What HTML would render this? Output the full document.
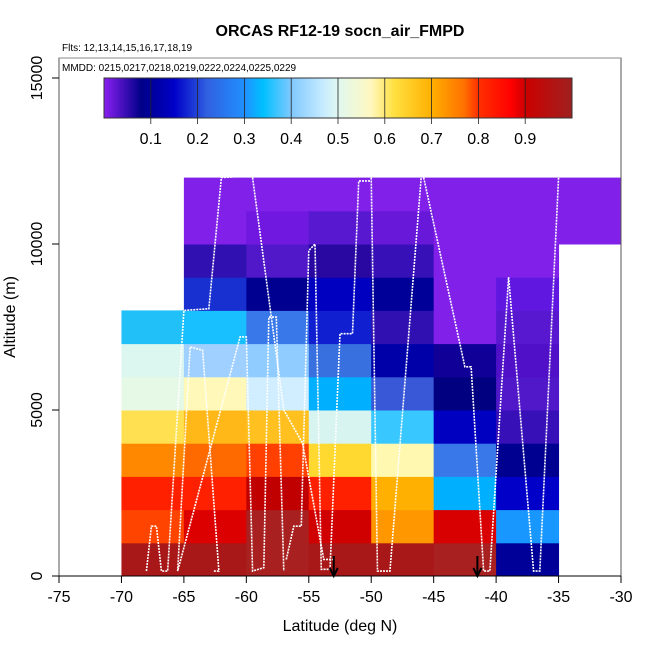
<!DOCTYPE html>
<html><head><meta charset="utf-8"><style>
body{margin:0;background:#fff;}
svg{display:block;font-family:"Liberation Sans",sans-serif;}
</style></head><body>
<svg id="chart" width="650" height="650" viewBox="0 0 650 650">
<defs>
<linearGradient id="cb" x1="0" x2="1" y1="0" y2="0">
<stop offset="0" stop-color="#8a1ff0"/><stop offset="0.08" stop-color="#000088"/>
<stop offset="0.15" stop-color="#0000c8"/><stop offset="0.22" stop-color="#3060e0"/>
<stop offset="0.3" stop-color="#2090ff"/><stop offset="0.34" stop-color="#00c0ff"/>
<stop offset="0.4" stop-color="#80c8ff"/><stop offset="0.47" stop-color="#c8ecff"/>
<stop offset="0.5" stop-color="#e0f8f0"/><stop offset="0.57" stop-color="#fff8c0"/>
<stop offset="0.62" stop-color="#ffe040"/><stop offset="0.7" stop-color="#ffb000"/>
<stop offset="0.77" stop-color="#ff7000"/><stop offset="0.8" stop-color="#ff3000"/>
<stop offset="0.87" stop-color="#ff0000"/><stop offset="0.9" stop-color="#cc0000"/>
<stop offset="1" stop-color="#a02020"/>
</linearGradient>
</defs>
<text x="340" y="36" text-anchor="middle" font-size="16" font-weight="bold">ORCAS RF12-19 socn_air_FMPD</text>
<text x="62" y="51" font-size="10">Flts: 12,13,14,15,16,17,18,19</text>
<g id="cells"></g>
<g id="tracks"></g>
<g id="arrows"></g>
<rect x="59" y="58" width="562" height="518" fill="none" stroke="#555" stroke-width="1"/>
<rect x="60" y="59" width="560" height="95" fill="#fff"/>
<line x1="59" y1="58" x2="621" y2="58" stroke="#888"/>
<text x="62" y="71" font-size="10">MMDD: 0215,0217,0218,0219,0222,0224,0225,0229</text>
<rect x="104" y="78" width="468" height="40" fill="url(#cb)" stroke="#333"/>
<g id="cbticks"></g>
<line x1="59" y1="576" x2="621" y2="576" stroke="#000"/>
<g id="xticks"></g>
<g id="yticks"></g>
<text x="340" y="631" text-anchor="middle" font-size="16">Latitude (deg N)</text>
<text x="0" y="0" transform="translate(15,317) rotate(-90)" text-anchor="middle" font-size="16">Altitude (m)</text>
</svg>
<script>
const latBins=[-70,-65,-60,-55,-50,-45,-40,-35];
const altBins=[0,1000,2000,3000,4000,5000,6000,7000,8000,9000,10000,11000];
const cellColors=[
["#a81818","#ff4400","#ff2000","#ff8800","#ffe050","#e6f8e6","#dcf6f0","#22c0f8",null,null,null,null],
["#a81818","#dd0000","#ff2000","#ff6a00","#ffb818","#fff8b8","#a0d0ff","#18c0ff","#1830d0","#3010b0","#8020e8","#8020e8"],
["#a82020","#a82020","#c00000","#ff4000","#ffc020","#d0eeff","#90ccff","#3878e8","#000090","#5018c8","#7018e0","#8020e8"],
["#a81818","#d00000","#ff2000","#ffd830","#d8f4f0","#00b0ff","#3870e0","#1020d0","#0000c0","#2808a0","#5818d0","#8020e8"],
["#a81818","#ff9800","#ffb000","#fff8b0","#38c8ff","#3858d8","#0000a8","#3010b0","#000098","#3810b8","#6818d8","#8020e8"],
["#a82020","#d80000","#00b0ff","#3878e8","#0000c0","#000080","#100098","#8020e8","#8020e8","#8020e8","#8020e8","#8020e8"],
["#000098","#1898ff","#0000c8","#000090","#3810b8","#5018c8","#5010c8","#5818d0","#6018e0","#8020e8","#8020e8","#8020e8"],
[null,null,null,null,null,null,null,null,null,null,"#8020e8","#8020e8"]
];
const xTicks=[-75,-70,-65,-60,-55,-50,-45,-40,-35,-30];
const yTicks=[0,5000,10000,15000];
const cbTicks=[0.1,0.2,0.3,0.4,0.5,0.6,0.7,0.8,0.9];
const arrowLats=[-53,-41.5];
const track1=[[-68,150],[-67.6,1500],[-67.2,1500],[-66.8,150],[-66.3,150],[-65,8000],[-63,8050],[-62,12000],[-60,12050]];
const track2=[[-62.6,150],[-62.2,150],[-63.5,6800],[-64.5,6900],[-65.5,150],[-60.5,7200],[-60,7200],[-59.5,150],[-58.6,250],[-58.2,7800],[-57.6,7800],[-57,150]];
const track3=[[-56.8,500],[-56.2,1500],[-55.6,1500],[-55,9800],[-54.5,10000],[-54,200],[-53.3,200],[-52.5,7300],[-51.5,7300],[-51,11900],[-50,11900]];
const track4=[[-50,12000],[-49.5,150],[-48.5,150],[-46,12000]];
const track5=[[-45.8,12000],[-42.5,6300],[-42,6300],[-41,150],[-40.5,150],[-39,9000],[-37,150],[-36.5,150],[-35,12000]];
const track6=[[-59.5,12000],[-57,5000],[-55.5,4000],[-53.8,500],[-53,500]];
const tracks=[track1,track2,track3,track4,track5,track6];

const NS='http://www.w3.org/2000/svg';
const X=v=>59+(v+75)*(562/45);
const Y=v=>576-v*(498/15000);
function mk(tag,attrs,parent){const e=document.createElementNS(NS,tag);for(const k in attrs)e.setAttribute(k,attrs[k]);parent.appendChild(e);return e;}
const cells=document.getElementById('cells');
latBins.forEach((lat,i)=>{altBins.forEach((alt,j)=>{const c=cellColors[i][j];if(!c)return;
const r=mk('rect',{x:X(lat),y:Y(alt+1000),width:X(lat+5)-X(lat)+0.5,height:Y(alt)-Y(alt+1000)+0.5,fill:c},cells);

});});
const tg=document.getElementById('tracks');
tracks.forEach(t=>{const p=mk('polyline',{points:t.map(q=>X(q[0])+','+Y(q[1])).join(' '),fill:'none',stroke:'#fff','stroke-width':1.6,'stroke-dasharray':'2 1'},tg);

});
const ag=document.getElementById('arrows');
arrowLats.forEach(l=>{const x=X(l);const g=mk('g',{},ag);


mk('line',{x1:x,y1:556,x2:x,y2:576,stroke:'#000','stroke-width':2},g);
mk('polyline',{points:(x-4)+',568 '+x+',576 '+(x+4)+',568',fill:'none',stroke:'#000','stroke-width':2},g);});
const xg=document.getElementById('xticks');
xTicks.forEach(v=>{mk('line',{x1:X(v),y1:576,x2:X(v),y2:583,stroke:'#000'},xg);
const t=mk('text',{x:X(v),y:602,'text-anchor':'middle','font-size':16},xg);t.textContent=v;

});
const yg=document.getElementById('yticks');
yTicks.forEach(v=>{mk('line',{x1:52,y1:Y(v),x2:59,y2:Y(v),stroke:'#000'},yg);
const t=mk('text',{x:0,y:0,transform:'translate(42,'+Y(v)+') rotate(-90)','text-anchor':'middle','font-size':16},yg);t.textContent=v;

});
const cg=document.getElementById('cbticks');
cbTicks.forEach(v=>{const x=104+v*468;mk('line',{x1:x,y1:78,x2:x,y2:124,stroke:'#222','stroke-width':0.8},cg);
const t=mk('text',{x:x,y:144,'text-anchor':'middle','font-size':16},cg);t.textContent=v;

});
</script>
</body></html>
